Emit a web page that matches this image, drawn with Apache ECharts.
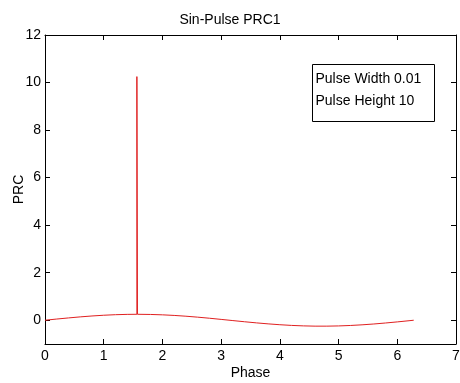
<!DOCTYPE html>
<html><head><meta charset="utf-8">
<script src="https://cdn.jsdelivr.net/npm/echarts@6/dist/echarts.min.js"></script>
<style>html,body{margin:0;padding:0;background:#fff}#c{width:460px;height:383px}</style>
</head><body><div id="c"></div>
<script>
var phase = [0,0.2,0.4,0.6,0.8,1.0,1.2,1.4,1.565,1.565,1.575,1.575,1.6,1.8,2.0,2.2,2.4,2.6,2.8,3.0,3.2,3.4,3.6,3.8,4.0,4.2,4.4,4.6,4.8,5.0,5.2,5.4,5.6,5.8,6.0,6.2,6.28];
var prc = [0,0.050,0.097,0.141,0.179,0.210,0.233,0.246,0.250,10.25,10.25,0.250,0.250,0.243,0.227,0.202,0.169,0.129,0.084,0.035,-0.015,-0.064,-0.111,-0.153,-0.189,-0.218,-0.238,-0.249,-0.249,-0.240,-0.221,-0.193,-0.158,-0.116,-0.070,-0.021,0.0];
var xTicks = [0,1,2,3,4,5,6,7];
var yTicks = [0,2,4,6,8,10,12];
var titleText = 'Sin-Pulse PRC1';
var noteLines = ['Pulse Width 0.01','Pulse Height 10'];

var FONT = '"Liberation Sans", Arial, sans-serif';
var chart = echarts.init(document.getElementById('c'));
var axisBase = {
  type: 'value',
  axisLine: {show: true, onZero: false, lineStyle: {color: '#000', width: 1}},
  axisTick: {show: true, inside: true, length: 5, lineStyle: {color: '#000'}},
  splitLine: {show: false},
  axisLabel: {color: '#000', fontFamily: FONT, fontSize: 14}
};
function ax(extra){ return echarts.util.merge(echarts.util.clone(axisBase), extra, true); }
chart.setOption({
  animation: false,
  backgroundColor: '#fff',
  title: {text: titleText, left: 'center', top: 8,
    textStyle: {fontFamily: FONT, fontSize: 14, fontWeight: 'normal', color: '#000'}},
  grid: {left: 45, right: 4, top: 35, bottom: 39, show: false, containLabel: false, outerBoundsMode: 'none'},
  xAxis: [
    ax({min: 0, max: 7, interval: 1, name: 'Phase', nameLocation: 'middle', nameGap: 22, nameMoveOverlap: false,
      nameTextStyle: {fontFamily: FONT, fontSize: 14, color: '#000'},
      axisLabel: {margin: 5, customValues: xTicks}, axisTick: {customValues: xTicks}}),
    ax({min: 0, max: 7, interval: 1, position: 'top', axisLabel: {show: false}, axisTick: {customValues: xTicks}})
  ],
  yAxis: [
    ax({min: -1, max: 12, name: 'PRC', nameLocation: 'middle', nameGap: 19, nameMoveOverlap: false,
      nameTextStyle: {fontFamily: FONT, fontSize: 14, color: '#000'},
      axisLabel: {margin: 4, customValues: yTicks}, axisTick: {customValues: yTicks}}),
    ax({min: -1, max: 12, position: 'right', axisLabel: {show: false}, axisTick: {customValues: yTicks}})
  ],
  series: [{
    type: 'line', xAxisIndex: 0, yAxisIndex: 0, showSymbol: false, symbol: 'none',
    data: phase.map(function(p, i){ return [p, prc[i]]; }),
    lineStyle: {color: '#e02020', width: 1}, itemStyle: {color: '#e02020'}
  }],
  graphic: [{
    type: 'group', left: 312, top: 64,
    children: [
      {type: 'rect', shape: {x: 0, y: 0, width: 122, height: 57}, style: {fill: '#fff', stroke: '#000', lineWidth: 1}},
      {type: 'text', x: 3, y: 4, style: {text: noteLines.join('\n'), font: '14px ' + FONT, fill: '#000', lineHeight: 22}}
    ]
  }]
});
</script></body></html>
